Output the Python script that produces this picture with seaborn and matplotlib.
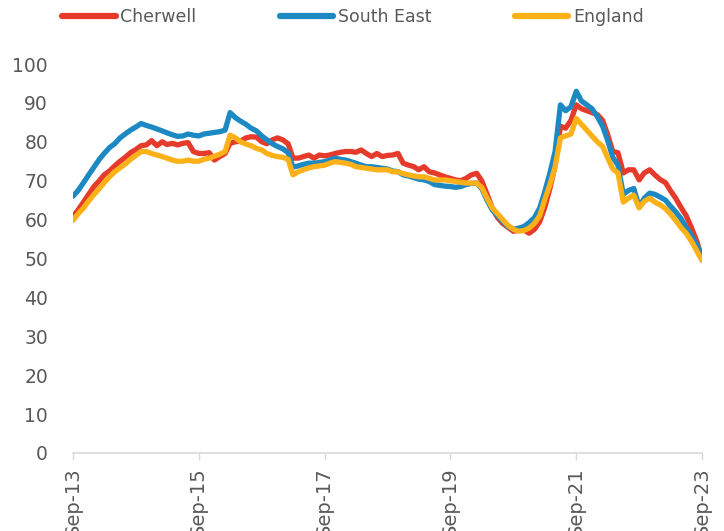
import numpy as np
import pandas as pd
import matplotlib
matplotlib.use('Agg')
import matplotlib.pyplot as plt
import seaborn as sns

# monthly values, Sep-13 .. Sep-23
cherwell = [
    60.8, 62.5, 64.5, 66.5, 68.5, 70.0, 71.5, 72.5, 73.8, 75.0, 76.0,
    77.2, 78.0, 79.0, 79.2, 80.3, 79.0, 80.0, 79.3, 79.6, 79.2,
    79.6, 79.8, 77.5, 77.0, 77.0, 77.2, 75.3, 76.2, 77.0, 79.6,
    80.0, 80.2, 81.0, 81.3, 81.2, 80.0, 79.5, 80.5, 81.0, 80.5,
    79.5, 75.8, 75.8, 76.2, 76.6, 75.8, 76.6, 76.4, 76.6, 77.0,
    77.3, 77.5, 77.5, 77.3, 77.9, 77.0, 76.2, 77.0, 76.2, 76.5,
    76.6, 77.0, 74.5, 74.0, 73.6, 72.8, 73.6, 72.3, 72.0, 71.5,
    71.0, 70.6, 70.2, 70.0, 70.6, 71.5, 71.9, 70.0, 66.5, 63.0,
    60.5, 59.0, 58.0, 57.0, 57.3, 57.3, 56.5, 57.5, 59.5, 63.0,
    68.0, 74.0, 84.0, 83.5, 85.5, 89.5, 88.5, 88.0, 87.5, 87.0,
    85.5, 82.0, 77.5, 77.2, 72.0, 72.8, 72.8, 70.2, 72.0, 72.8,
    71.5, 70.3, 69.5, 67.5, 65.5, 63.2, 61.0, 58.0, 54.5, 50.0,
]
south_east = [
    66.0, 67.5, 69.5, 71.5, 73.5, 75.5, 77.0, 78.5, 79.5, 81.0, 82.0,
    83.0, 83.8, 84.7, 84.2, 83.8, 83.3, 82.8, 82.3, 81.8, 81.4,
    81.5, 82.0, 81.7, 81.5, 82.0, 82.2, 82.4, 82.6, 83.0, 87.5,
    86.2, 85.3, 84.5, 83.5, 82.8, 81.5, 80.5, 79.5, 78.8, 78.2,
    77.2, 73.5, 73.8, 74.2, 74.5, 74.5, 74.7, 74.9, 75.3, 75.8,
    75.5, 75.3, 74.9, 74.5, 74.0, 73.6, 73.6, 73.4, 73.2, 73.0,
    72.5, 72.3, 71.5, 71.2, 70.8, 70.4, 70.2, 69.8, 69.0, 68.8,
    68.6, 68.5, 68.3, 68.5, 69.0, 69.3, 69.4, 68.0, 65.0, 62.5,
    61.0, 59.5, 58.2, 57.5, 57.8, 58.2, 59.2, 60.5, 63.0, 67.0,
    72.0, 77.5, 89.5, 88.0, 89.0, 93.0, 90.5, 89.5, 88.5, 86.5,
    84.0, 80.5, 76.0, 74.0, 66.5, 67.5, 68.0, 63.3, 65.5, 66.8,
    66.5, 65.8, 65.0, 63.5, 62.0, 60.3, 58.0, 56.0, 53.5, 50.5,
]
england = [
    59.8, 61.5, 63.0, 64.8, 66.5, 68.0, 69.5, 71.0, 72.3, 73.3, 74.3,
    75.5, 76.5, 77.5, 77.5, 77.0, 76.6, 76.2, 75.8, 75.3, 75.0,
    75.0, 75.3, 75.0, 75.0, 75.5, 75.8, 76.3, 76.8, 77.5, 81.7,
    81.0, 80.0, 79.4, 79.0, 78.3, 77.9, 77.0, 76.5, 76.2, 76.0,
    75.5, 71.5, 72.3, 72.8, 73.3, 73.6, 73.8, 74.0, 74.5, 74.9,
    74.7, 74.5, 74.2, 73.6, 73.4, 73.2, 73.0, 72.8, 72.8, 72.8,
    72.3, 72.3, 71.8, 71.5, 71.2, 71.0, 71.0, 70.6, 70.2, 70.2,
    70.2, 70.0, 69.8, 69.6, 69.4, 69.4, 69.4, 68.3, 65.5, 63.0,
    61.5, 60.0, 58.5, 57.5, 57.0, 57.2, 57.8, 59.0, 61.0, 65.0,
    69.0, 73.5, 81.0, 81.5, 82.0, 86.0, 84.5, 83.0, 81.5, 80.0,
    78.8, 76.0, 73.0, 72.0, 64.5, 65.5, 66.3, 63.0, 64.7, 65.5,
    64.5, 63.8, 62.8, 61.5, 59.8, 58.0, 56.5, 54.5, 52.0, 49.5,
]
areas = ['Cherwell', 'South East', 'England']
colors = ['#E63A2B', '#1D89C3', '#FBB117']
months = pd.date_range('2013-09-01', periods=len(england), freq='MS')

df = pd.DataFrame({'date': np.tile(months, 3),
                   'value': cherwell + south_east + england,
                   'area': np.repeat(areas, len(months))})

sns.set_style('white')
plt.rcParams['font.family'] = ['DejaVu Sans']
grey = '#595959'

fig = plt.figure(figsize=(7.24, 5.31), dpi=100)
ax = fig.add_axes([73/724, 1-453/531, 629/724, 389/531])

sns.lineplot(data=df, x='date', y='value', hue='area', hue_order=areas,
             palette=colors, linewidth=3.8, ax=ax)

handles, labels = ax.get_legend_handles_labels()
ax.get_legend().remove()
for h in handles:
    h.set_linewidth(4.5)
    h.set_solid_capstyle('round')
for l in ax.get_lines():
    l.set_solid_joinstyle('round')
fig.legend(handles, labels, loc='center left', bbox_to_anchor=(62/724, 1-17/531),
           ncol=3, frameon=False, fontsize=12.5, labelcolor=grey,
           handlelength=3.1, handletextpad=0.25, columnspacing=4.8,
           borderpad=0, borderaxespad=0)

ax.set_xlim(months[0], months[-1])
ax.set_ylim(0, 100)
ax.set_yticks(range(0, 101, 10))
ticks = months[::24]
ax.set_xticks(ticks)
ax.set_xticklabels([d.strftime('%b-%y') for d in ticks], rotation=90,
                   va='top', ha='center')
ax.set_xlabel('')
ax.set_ylabel('')
ax.tick_params(axis='y', length=0, pad=18, labelsize=13.5, labelcolor=grey)
ax.tick_params(axis='x', length=5, width=1, color='#d9d9d9', pad=5,
               labelsize=14, labelcolor=grey, bottom=True)
for s in ['left', 'right', 'top']:
    ax.spines[s].set_visible(False)
ax.spines['bottom'].set_color('#d9d9d9')
ax.spines['bottom'].set_linewidth(1.2)

fig.savefig('out.png', dpi=100)
